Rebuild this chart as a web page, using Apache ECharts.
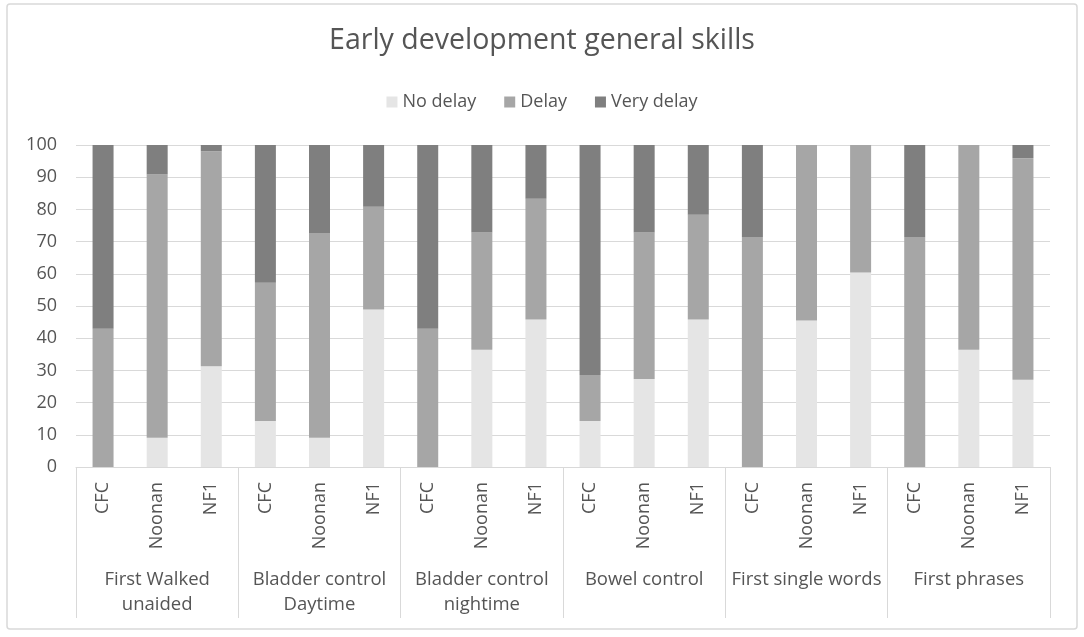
<!DOCTYPE html>
<html>
<head>
<meta charset="utf-8">
<script src="https://cdn.jsdelivr.net/npm/echarts@6/dist/echarts.min.js"></script>
<style>
  html, body { margin: 0; padding: 0; background: #fff; }
  #chart { width: 1084px; height: 637px; }
</style>
</head>
<body>
<div id="chart"></div>
<script>
const groups = ["First Walked\nunaided", "Bladder control\nDaytime", "Bladder control\nnightime", "Bowel control", "First single words", "First phrases"]
const syndromes = ["CFC", "Noonan", "NF1"]
const categories = groups.flatMap(() => syndromes)		// CFC, Noonan, NF1 under every group

const noDelay = [0, 9.1, 31.3, 14.3, 9.1, 48.9, 0, 36.4, 45.8, 14.3, 27.3, 45.8, 0, 45.5, 60.4, 0, 36.4, 27.1]
const delay = [42.9, 81.8, 66.7, 42.9, 63.6, 31.9, 42.9, 36.4, 37.5, 14.3, 45.5, 32.5, 71.4, 54.5, 39.6, 71.4, 63.6, 68.8]
const veryDelay = [57.1, 9.1, 2.0, 42.9, 27.3, 19.2, 57.1, 27.3, 16.7, 71.4, 27.3, 21.7, 28.6, 0, 0, 28.6, 0, 4.1]

const font = "'Open Sans', 'Noto Sans', sans-serif"
const textColor = "#555555"
const lineColor = "#d9d9d9"

function bar(name, data, color) {
	return {
		name: name,
		type: "bar",
		stack: "total",
		barWidth: 21,
		xAxisIndex: 0,
		itemStyle: { color: color },
		data: data
	}
}

const chart = echarts.init(document.querySelector("#chart"))
chart.setOption({
	animation: false,
	textStyle: { fontFamily: font },
	title: {
		text: "Early development general skills",
		left: "center",
		top: 21,
		textStyle: { fontFamily: font, fontSize: 28.5, fontWeight: "normal", color: textColor }
	},
	legend: {
		top: 88,
		left: "center",
		itemWidth: 11,
		itemHeight: 11,
		itemGap: 28,
		icon: "rect",
		textStyle: { fontFamily: font, fontSize: 18, color: textColor },
		data: ["No delay", "Delay", "Very delay"]
	},
	grid: { left: 76, right: 34, top: 145, bottom: 170 },
	xAxis: [
		{
			type: "category",
			data: categories,
			axisLine: { lineStyle: { color: lineColor } },
			axisTick: { show: false },
			axisLabel: {
				interval: 0,
				rotate: 90,
				margin: 15,
				fontFamily: font,
				fontSize: 18,
				color: textColor
			}
		},
		{
			type: "category",
			position: "bottom",
			data: groups,
			axisLine: { show: false },
			axisTick: { show: true, length: 151, interval: 0, lineStyle: { color: lineColor } },
			axisLabel: {
				interval: 0,
				margin: 100,
				fontFamily: font,
				fontSize: 18.5,
				lineHeight: 25,
				color: textColor
			}
		}
	],
	yAxis: {
		type: "value",
		min: 0,
		max: 100,
		interval: 10,
		axisLine: { show: false },
		axisTick: { show: false },
		splitLine: { lineStyle: { color: lineColor } },
		axisLabel: { margin: 19, fontFamily: font, fontSize: 18, color: textColor }
	},
	graphic: [{
		type: "rect",
		shape: { x: 7, y: 4, width: 1070, height: 625, r: 3 },
		style: { fill: "none", stroke: lineColor, lineWidth: 1.5 },
		silent: true
	}],
	series: [
		bar("No delay", noDelay, "#e5e5e5"),
		bar("Delay", delay, "#a6a6a6"),
		bar("Very delay", veryDelay, "#7f7f7f")
	]
})
</script>
</body>
</html>
